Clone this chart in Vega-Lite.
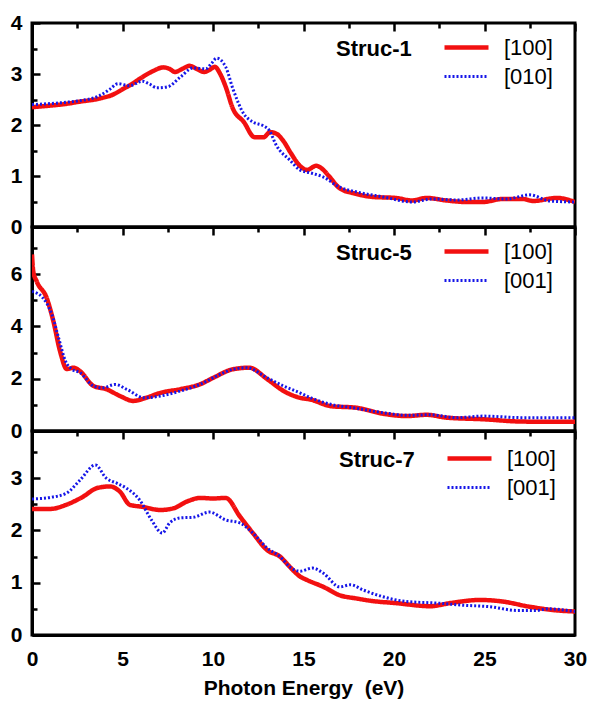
{
  "$schema": "https://vega.github.io/schema/vega-lite/v6.json",
  "padding": {"left": 8, "top": 10, "right": 0, "bottom": 0},
  "spacing": 0,
  "bounds": "flush",
  "config": {
    "font": "Liberation Sans",
    "view": {"stroke": "black", "strokeWidth": 3},
    "axis": {
      "domainColor": "black", "domainWidth": 3, "ticks": false, "labelFont": "Liberation Sans", "labelFontWeight": "bold", "labelFontSize": 21,
      "labelColor": "black", "labelOverlap": false, "labelFlush": false,
      "grid": true, "gridColor": "black", "gridWidth": 2.5, "gridOpacity": 1,
      "titleFont": "Liberation Sans", "titleFontWeight": "bold", "titleFontSize": 21, "titleColor": "black"
    },
    "legend": {
      "orient": "none", "titleOrient": "left", "titleAnchor": "start", "titleBaseline": "line-top", "titleLineHeight": 34, "titleFontSize": 22, "titleFontWeight": "bold",
      "titleColor": "black", "titleFont": "Liberation Sans", "titlePadding": 30,
      "labelFont": "Liberation Sans", "labelFontSize": 22, "labelColor": "black", "labelOffset": 13,
      "symbolType": "stroke", "symbolSize": 1936, "clipHeight": 29, "rowPadding": 0, "padding": 0
    }
  },
  "data": {"values": [
    {"p":1,"dir":"[100]","E":0,"v":2.35},{"p":1,"dir":"[100]","E":1,"v":2.38},{"p":1,"dir":"[100]","E":2,"v":2.42},{"p":1,"dir":"[100]","E":2.5,"v":2.45},{"p":1,"dir":"[100]","E":3.75,"v":2.52},{"p":1,"dir":"[100]","E":4.5,"v":2.6},{"p":1,"dir":"[100]","E":5,"v":2.7},{"p":1,"dir":"[100]","E":5.5,"v":2.8},{"p":1,"dir":"[100]","E":6.1,"v":2.94},{"p":1,"dir":"[100]","E":6.7,"v":3.06},{"p":1,"dir":"[100]","E":7.25,"v":3.13},{"p":1,"dir":"[100]","E":7.6,"v":3.1},{"p":1,"dir":"[100]","E":7.9,"v":3.04},{"p":1,"dir":"[100]","E":8.3,"v":3.1},{"p":1,"dir":"[100]","E":8.7,"v":3.16},{"p":1,"dir":"[100]","E":9.1,"v":3.1},{"p":1,"dir":"[100]","E":9.5,"v":3.04},{"p":1,"dir":"[100]","E":9.8,"v":3.08},{"p":1,"dir":"[100]","E":10.1,"v":3.14},{"p":1,"dir":"[100]","E":10.4,"v":3.0},{"p":1,"dir":"[100]","E":10.7,"v":2.75},{"p":1,"dir":"[100]","E":11.1,"v":2.32},{"p":1,"dir":"[100]","E":11.7,"v":2.06},{"p":1,"dir":"[100]","E":12.3,"v":1.76},{"p":1,"dir":"[100]","E":12.8,"v":1.76},{"p":1,"dir":"[100]","E":13.15,"v":1.86},{"p":1,"dir":"[100]","E":13.5,"v":1.83},{"p":1,"dir":"[100]","E":13.9,"v":1.68},{"p":1,"dir":"[100]","E":14.3,"v":1.45},{"p":1,"dir":"[100]","E":14.8,"v":1.2},{"p":1,"dir":"[100]","E":15.2,"v":1.12},{"p":1,"dir":"[100]","E":15.7,"v":1.2},{"p":1,"dir":"[100]","E":16.0,"v":1.15},{"p":1,"dir":"[100]","E":16.4,"v":1.0},{"p":1,"dir":"[100]","E":17,"v":0.76},{"p":1,"dir":"[100]","E":17.9,"v":0.65},{"p":1,"dir":"[100]","E":18.8,"v":0.59},{"p":1,"dir":"[100]","E":20.1,"v":0.57},{"p":1,"dir":"[100]","E":21,"v":0.52},{"p":1,"dir":"[100]","E":21.8,"v":0.57},{"p":1,"dir":"[100]","E":22.9,"v":0.52},{"p":1,"dir":"[100]","E":24,"v":0.49},{"p":1,"dir":"[100]","E":24.9,"v":0.49},{"p":1,"dir":"[100]","E":26,"v":0.55},{"p":1,"dir":"[100]","E":27.1,"v":0.55},{"p":1,"dir":"[100]","E":27.7,"v":0.51},{"p":1,"dir":"[100]","E":29,"v":0.57},{"p":1,"dir":"[100]","E":30,"v":0.49},
    {"p":1,"dir":"[010]","E":0,"v":2.4},{"p":1,"dir":"[010]","E":1,"v":2.42},{"p":1,"dir":"[010]","E":2,"v":2.45},{"p":1,"dir":"[010]","E":2.5,"v":2.47},{"p":1,"dir":"[010]","E":3.75,"v":2.58},{"p":1,"dir":"[010]","E":4.3,"v":2.7},{"p":1,"dir":"[010]","E":4.75,"v":2.81},{"p":1,"dir":"[010]","E":5.4,"v":2.77},{"p":1,"dir":"[010]","E":6.1,"v":2.86},{"p":1,"dir":"[010]","E":6.5,"v":2.8},{"p":1,"dir":"[010]","E":6.9,"v":2.73},{"p":1,"dir":"[010]","E":7.5,"v":2.75},{"p":1,"dir":"[010]","E":8.2,"v":2.94},{"p":1,"dir":"[010]","E":8.9,"v":3.12},{"p":1,"dir":"[010]","E":9.6,"v":3.1},{"p":1,"dir":"[010]","E":9.9,"v":3.2},{"p":1,"dir":"[010]","E":10.2,"v":3.31},{"p":1,"dir":"[010]","E":10.7,"v":3.14},{"p":1,"dir":"[010]","E":11.1,"v":2.71},{"p":1,"dir":"[010]","E":11.7,"v":2.22},{"p":1,"dir":"[010]","E":12.2,"v":2.06},{"p":1,"dir":"[010]","E":12.8,"v":1.98},{"p":1,"dir":"[010]","E":13.1,"v":1.9},{"p":1,"dir":"[010]","E":13.5,"v":1.6},{"p":1,"dir":"[010]","E":14.25,"v":1.31},{"p":1,"dir":"[010]","E":14.8,"v":1.12},{"p":1,"dir":"[010]","E":15.5,"v":1.05},{"p":1,"dir":"[010]","E":16.1,"v":0.98},{"p":1,"dir":"[010]","E":17,"v":0.78},{"p":1,"dir":"[010]","E":17.9,"v":0.69},{"p":1,"dir":"[010]","E":19.4,"v":0.59},{"p":1,"dir":"[010]","E":21,"v":0.49},{"p":1,"dir":"[010]","E":22.1,"v":0.55},{"p":1,"dir":"[010]","E":23.5,"v":0.53},{"p":1,"dir":"[010]","E":24.9,"v":0.57},{"p":1,"dir":"[010]","E":26.2,"v":0.55},{"p":1,"dir":"[010]","E":27.5,"v":0.63},{"p":1,"dir":"[010]","E":28.6,"v":0.51},{"p":1,"dir":"[010]","E":30,"v":0.49},
    {"p":2,"dir":"[100]","E":0,"v":6.75},{"p":2,"dir":"[100]","E":0.07,"v":6.1},{"p":2,"dir":"[100]","E":0.26,"v":5.72},{"p":2,"dir":"[100]","E":0.81,"v":5.09},{"p":2,"dir":"[100]","E":1.18,"v":4.2},{"p":2,"dir":"[100]","E":1.55,"v":3.05},{"p":2,"dir":"[100]","E":1.92,"v":2.37},{"p":2,"dir":"[100]","E":2.3,"v":2.42},{"p":2,"dir":"[100]","E":2.65,"v":2.29},{"p":2,"dir":"[100]","E":3.4,"v":1.72},{"p":2,"dir":"[100]","E":4.1,"v":1.6},{"p":2,"dir":"[100]","E":4.86,"v":1.34},{"p":2,"dir":"[100]","E":5.6,"v":1.15},{"p":2,"dir":"[100]","E":6.3,"v":1.27},{"p":2,"dir":"[100]","E":7.1,"v":1.46},{"p":2,"dir":"[100]","E":8.2,"v":1.6},{"p":2,"dir":"[100]","E":9.3,"v":1.79},{"p":2,"dir":"[100]","E":10,"v":2.03},{"p":2,"dir":"[100]","E":11.1,"v":2.36},{"p":2,"dir":"[100]","E":12,"v":2.42},{"p":2,"dir":"[100]","E":13,"v":1.98},{"p":2,"dir":"[100]","E":13.9,"v":1.53},{"p":2,"dir":"[100]","E":14.8,"v":1.27},{"p":2,"dir":"[100]","E":15.4,"v":1.2},{"p":2,"dir":"[100]","E":16.5,"v":0.95},{"p":2,"dir":"[100]","E":17.9,"v":0.89},{"p":2,"dir":"[100]","E":19.4,"v":0.66},{"p":2,"dir":"[100]","E":20.7,"v":0.57},{"p":2,"dir":"[100]","E":21.8,"v":0.62},{"p":2,"dir":"[100]","E":22.9,"v":0.51},{"p":2,"dir":"[100]","E":24.9,"v":0.45},{"p":2,"dir":"[100]","E":27.1,"v":0.36},{"p":2,"dir":"[100]","E":30,"v":0.35},
    {"p":2,"dir":"[001]","E":0,"v":5.34},{"p":2,"dir":"[001]","E":0.6,"v":5.09},{"p":2,"dir":"[001]","E":1.1,"v":4.45},{"p":2,"dir":"[001]","E":1.47,"v":3.56},{"p":2,"dir":"[001]","E":1.85,"v":2.67},{"p":2,"dir":"[001]","E":2.2,"v":2.36},{"p":2,"dir":"[001]","E":2.65,"v":2.23},{"p":2,"dir":"[001]","E":3.4,"v":1.72},{"p":2,"dir":"[001]","E":3.9,"v":1.65},{"p":2,"dir":"[001]","E":4.6,"v":1.78},{"p":2,"dir":"[001]","E":5.25,"v":1.59},{"p":2,"dir":"[001]","E":6.2,"v":1.27},{"p":2,"dir":"[001]","E":7.1,"v":1.34},{"p":2,"dir":"[001]","E":8.2,"v":1.53},{"p":2,"dir":"[001]","E":9.3,"v":1.79},{"p":2,"dir":"[001]","E":10.2,"v":2.1},{"p":2,"dir":"[001]","E":11.1,"v":2.36},{"p":2,"dir":"[001]","E":11.85,"v":2.42},{"p":2,"dir":"[001]","E":13,"v":2.03},{"p":2,"dir":"[001]","E":13.9,"v":1.72},{"p":2,"dir":"[001]","E":14.8,"v":1.46},{"p":2,"dir":"[001]","E":15.4,"v":1.27},{"p":2,"dir":"[001]","E":16.5,"v":1.02},{"p":2,"dir":"[001]","E":17.9,"v":0.87},{"p":2,"dir":"[001]","E":19.4,"v":0.7},{"p":2,"dir":"[001]","E":20.7,"v":0.6},{"p":2,"dir":"[001]","E":22,"v":0.62},{"p":2,"dir":"[001]","E":23.5,"v":0.51},{"p":2,"dir":"[001]","E":24.9,"v":0.57},{"p":2,"dir":"[001]","E":27.1,"v":0.51},{"p":2,"dir":"[001]","E":30,"v":0.51},
    {"p":3,"dir":"[100]","E":0,"v":2.41},{"p":3,"dir":"[100]","E":1,"v":2.41},{"p":3,"dir":"[100]","E":1.9,"v":2.49},{"p":3,"dir":"[100]","E":2.8,"v":2.64},{"p":3,"dir":"[100]","E":3.6,"v":2.81},{"p":3,"dir":"[100]","E":4.3,"v":2.84},{"p":3,"dir":"[100]","E":4.86,"v":2.74},{"p":3,"dir":"[100]","E":5.4,"v":2.49},{"p":3,"dir":"[100]","E":6.1,"v":2.45},{"p":3,"dir":"[100]","E":7.1,"v":2.39},{"p":3,"dir":"[100]","E":7.8,"v":2.42},{"p":3,"dir":"[100]","E":8.55,"v":2.55},{"p":3,"dir":"[100]","E":9.3,"v":2.62},{"p":3,"dir":"[100]","E":10,"v":2.61},{"p":3,"dir":"[100]","E":10.7,"v":2.62},{"p":3,"dir":"[100]","E":11.5,"v":2.26},{"p":3,"dir":"[100]","E":12.2,"v":1.95},{"p":3,"dir":"[100]","E":13,"v":1.62},{"p":3,"dir":"[100]","E":13.7,"v":1.5},{"p":3,"dir":"[100]","E":14.25,"v":1.3},{"p":3,"dir":"[100]","E":14.8,"v":1.12},{"p":3,"dir":"[100]","E":15.2,"v":1.05},{"p":3,"dir":"[100]","E":16.1,"v":0.92},{"p":3,"dir":"[100]","E":17,"v":0.76},{"p":3,"dir":"[100]","E":17.9,"v":0.7},{"p":3,"dir":"[100]","E":18.8,"v":0.65},{"p":3,"dir":"[100]","E":20.1,"v":0.61},{"p":3,"dir":"[100]","E":22,"v":0.55},{"p":3,"dir":"[100]","E":23.1,"v":0.61},{"p":3,"dir":"[100]","E":24.75,"v":0.67},{"p":3,"dir":"[100]","E":26,"v":0.64},{"p":3,"dir":"[100]","E":27.5,"v":0.54},{"p":3,"dir":"[100]","E":29,"v":0.47},{"p":3,"dir":"[100]","E":30,"v":0.45},
    {"p":3,"dir":"[001]","E":0,"v":2.6},{"p":3,"dir":"[001]","E":1,"v":2.63},{"p":3,"dir":"[001]","E":1.9,"v":2.71},{"p":3,"dir":"[001]","E":2.65,"v":2.96},{"p":3,"dir":"[001]","E":3.5,"v":3.25},{"p":3,"dir":"[001]","E":4.1,"v":3.0},{"p":3,"dir":"[001]","E":4.7,"v":2.9},{"p":3,"dir":"[001]","E":5.2,"v":2.81},{"p":3,"dir":"[001]","E":5.95,"v":2.58},{"p":3,"dir":"[001]","E":6.6,"v":2.2},{"p":3,"dir":"[001]","E":7.2,"v":1.95},{"p":3,"dir":"[001]","E":7.6,"v":2.14},{"p":3,"dir":"[001]","E":8.2,"v":2.24},{"p":3,"dir":"[001]","E":8.9,"v":2.25},{"p":3,"dir":"[001]","E":9.8,"v":2.35},{"p":3,"dir":"[001]","E":10.7,"v":2.2},{"p":3,"dir":"[001]","E":11.5,"v":2.14},{"p":3,"dir":"[001]","E":12.2,"v":1.95},{"p":3,"dir":"[001]","E":13,"v":1.66},{"p":3,"dir":"[001]","E":13.7,"v":1.5},{"p":3,"dir":"[001]","E":14.25,"v":1.3},{"p":3,"dir":"[001]","E":14.8,"v":1.22},{"p":3,"dir":"[001]","E":15.5,"v":1.28},{"p":3,"dir":"[001]","E":16.1,"v":1.18},{"p":3,"dir":"[001]","E":17,"v":0.92},{"p":3,"dir":"[001]","E":17.6,"v":0.96},{"p":3,"dir":"[001]","E":18.3,"v":0.86},{"p":3,"dir":"[001]","E":19.4,"v":0.73},{"p":3,"dir":"[001]","E":20.7,"v":0.64},{"p":3,"dir":"[001]","E":22.4,"v":0.61},{"p":3,"dir":"[001]","E":23.8,"v":0.57},{"p":3,"dir":"[001]","E":25.3,"v":0.54},{"p":3,"dir":"[001]","E":26.8,"v":0.47},{"p":3,"dir":"[001]","E":27.9,"v":0.47},{"p":3,"dir":"[001]","E":28.5,"v":0.5},{"p":3,"dir":"[001]","E":30,"v":0.45}
  ]},
  "resolve": {
    "scale": {"color": "independent", "strokeDash": "independent", "strokeWidth": "independent", "y": "independent"},
    "legend": {"color": "independent", "strokeDash": "independent", "strokeWidth": "independent"}
  },
  "vconcat": [
    {
      "width": 543, "height": 204,
      "transform": [{"filter": "datum.p === 1"}],
      "mark": {"type": "line", "interpolate": "monotone", "clip": true},
      "encoding": {
        "x": {"field": "E", "type": "quantitative", "scale": {"domain": [0, 30], "nice": false},
              "axis": {"values": [0,2.5,5,7.5,10,12.5,15,17.5,20,22.5,25,27.5,30], "labels": false, "title": null,
                       "gridDash": {"condition": {"test": "datum.value % 5 === 0", "value": [8, 2000]}, "value": [5, 2000]}}},
        "y": {"field": "v", "type": "quantitative", "scale": {"domain": [0, 4], "nice": false},
              "axis": {"values": [0,0.5,1,1.5,2,2.5,3,3.5,4], "format": "~g", "labelExpr": "datum.value % 1 === 0 ? datum.label : ''", "labelPadding": 10, "title": null,
                       "gridDash": {"condition": {"test": "datum.value % 1 === 0", "value": [8, 2000]}, "value": [5, 2000]}}},
        "color": {"field": "dir", "type": "nominal", "title": "Struc-1", "scale": {"domain": ["[100]", "[010]"], "range": ["#f21010", "#1616e8"]},
                  "legend": {"legendX": 304, "legendY": 10}},
        "strokeDash": {"field": "dir", "type": "nominal", "title": "Struc-1", "scale": {"domain": ["[100]", "[010]"], "range": [[1, 0], [2, 2]]}},
        "strokeWidth": {"field": "dir", "type": "nominal", "title": "Struc-1", "scale": {"domain": ["[100]", "[010]"], "range": [4.5, 3]}}
      }
    },
    {
      "width": 543, "height": 204,
      "transform": [{"filter": "datum.p === 2"}],
      "mark": {"type": "line", "interpolate": "monotone", "clip": true},
      "encoding": {
        "x": {"field": "E", "type": "quantitative", "scale": {"domain": [0, 30], "nice": false},
              "axis": {"values": [0,2.5,5,7.5,10,12.5,15,17.5,20,22.5,25,27.5,30], "labels": false, "title": null,
                       "gridDash": {"condition": {"test": "datum.value % 5 === 0", "value": [8, 2000]}, "value": [5, 2000]}}},
        "y": {"field": "v", "type": "quantitative", "scale": {"domain": [0, 7.8], "nice": false},
              "axis": {"values": [0,1,2,3,4,5,6,7], "format": "~g", "labelExpr": "datum.value % 2 === 0 ? datum.label : ''", "labelPadding": 10, "title": null,
                       "gridDash": {"condition": {"test": "datum.value % 2 === 0", "value": [8, 2000]}, "value": [5, 2000]}}},
        "color": {"field": "dir", "type": "nominal", "title": "Struc-5", "scale": {"domain": ["[100]", "[001]"], "range": ["#f21010", "#1616e8"]},
                  "legend": {"legendX": 304, "legendY": 10}},
        "strokeDash": {"field": "dir", "type": "nominal", "title": "Struc-5", "scale": {"domain": ["[100]", "[001]"], "range": [[1, 0], [2, 2]]}},
        "strokeWidth": {"field": "dir", "type": "nominal", "title": "Struc-5", "scale": {"domain": ["[100]", "[001]"], "range": [4.5, 3]}}
      }
    },
    {
      "width": 543, "height": 204,
      "transform": [{"filter": "datum.p === 3"}],
      "mark": {"type": "line", "interpolate": "monotone", "clip": true},
      "encoding": {
        "x": {"field": "E", "type": "quantitative", "scale": {"domain": [0, 30], "nice": false},
              "axis": {"values": [0,2.5,5,7.5,10,12.5,15,17.5,20,22.5,25,27.5,30], "format": "~g", "labelExpr": "datum.value % 5 === 0 ? datum.label : ''", "labelPadding": 13, "labelBaseline": "top", "title": "Photon Energy\u00a0 (eV)", "titlePadding": 8,
                       "gridDash": {"condition": {"test": "datum.value % 5 === 0", "value": [8, 2000]}, "value": [5, 2000]}}},
        "y": {"field": "v", "type": "quantitative", "scale": {"domain": [0, 3.9], "nice": false},
              "axis": {"values": [0,0.5,1,1.5,2,2.5,3,3.5], "format": "~g", "labelExpr": "datum.value % 1 === 0 ? datum.label : ''", "labelPadding": 10, "title": null,
                       "gridDash": {"condition": {"test": "datum.value % 1 === 0", "value": [8, 2000]}, "value": [5, 2000]}}},
        "color": {"field": "dir", "type": "nominal", "title": "Struc-7", "scale": {"domain": ["[100]", "[001]"], "range": ["#f21010", "#1616e8"]},
                  "legend": {"legendX": 307, "legendY": 13}},
        "strokeDash": {"field": "dir", "type": "nominal", "title": "Struc-7", "scale": {"domain": ["[100]", "[001]"], "range": [[1, 0], [2, 2]]}},
        "strokeWidth": {"field": "dir", "type": "nominal", "title": "Struc-7", "scale": {"domain": ["[100]", "[001]"], "range": [4.5, 3]}}
      }
    }
  ]
}
